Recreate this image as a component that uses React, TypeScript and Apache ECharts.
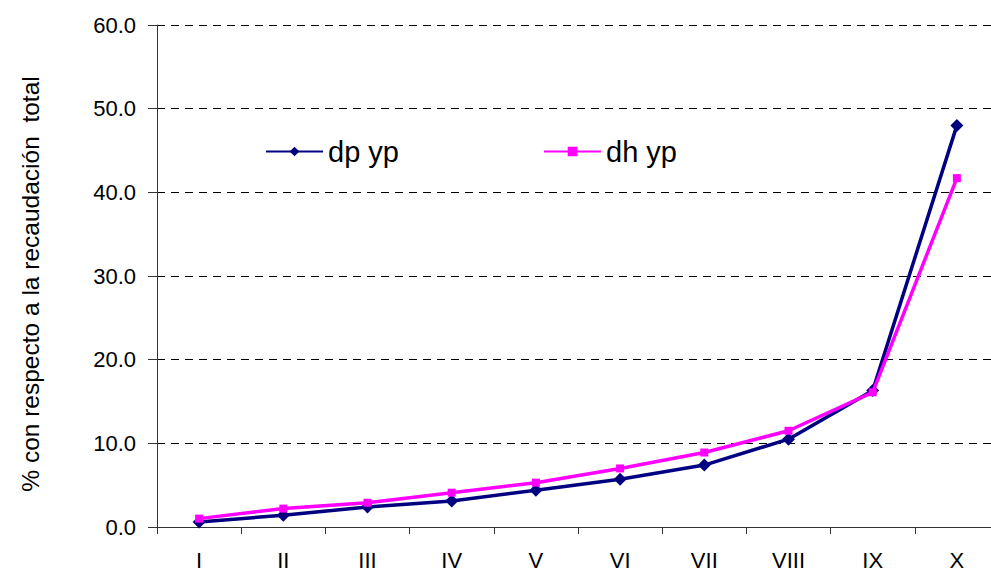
import React, { useEffect, useRef } from "react";
import * as echarts from "echarts";

const categories = ["I", "II", "III", "IV", "V", "VI", "VII", "VIII", "IX", "X"];
const dpYp = [0.6, 1.4, 2.4, 3.1, 4.4, 5.7, 7.4, 10.5, 16.3, 48.0];
const dhYp = [1.0, 2.2, 2.9, 4.1, 5.3, 7.0, 8.9, 11.5, 16.1, 41.7];
const seriesNames = ["dp yp", "dh yp"];
const yAxisTitle = "% con respecto a la recaudación  total";

export default function App() {
  const ref = useRef<HTMLDivElement>(null);
  useEffect(() => {
    if (!ref.current) return;
    document.body.style.overflow = "hidden";
    document.documentElement.style.overflow = "hidden";
    const chart = echarts.init(ref.current, null, { renderer: "svg" });
    const font = "Liberation Sans, Arial, sans-serif";
    chart.setOption({
      animation: false,
      backgroundColor: "#ffffff",
      grid: { left: 157, right: 1, top: 25, bottom: 44, containLabel: false },
      legend: [
        {
          data: [seriesNames[0]],
          left: 265,
          top: 137,
          padding: 0,
          itemWidth: 57,
          itemHeight: 12,
          itemGap: 8,
          textStyle: { fontFamily: font, fontSize: 29, color: "#000" },
        },
        {
          data: [seriesNames[1]],
          left: 543,
          top: 137,
          padding: 0,
          itemWidth: 57,
          itemHeight: 12,
          textStyle: { fontFamily: font, fontSize: 29, color: "#000" },
        },
      ],
      graphic: [
        {
          type: "text",
          x: 30,
          y: 284,
          rotation: Math.PI / 2,
          style: {
            text: yAxisTitle,
            fontFamily: font,
            fontSize: 24.5,
            fill: "#000",
            align: "center",
            verticalAlign: "middle",
          },
        },
      ],
      xAxis: {
        type: "category",
        data: categories,
        boundaryGap: true,
        axisLine: { lineStyle: { color: "#333", width: 1 } },
        axisTick: { show: true, length: 7, lineStyle: { color: "#333" } },
        axisLabel: { fontFamily: font, fontSize: 22, color: "#000", margin: 22 },
        splitLine: { show: false },
      },
      yAxis: {
        type: "value",
        min: 0,
        max: 60,
        interval: 10,
        axisLine: { show: true, lineStyle: { color: "#333", width: 1 } },
        axisTick: { show: true, length: 9, lineStyle: { color: "#333" } },
        axisLabel: {
          fontFamily: font,
          fontSize: 22,
          color: "#000",
          margin: 21,
          formatter: (v: number) => v.toFixed(1),
        },
        splitLine: { show: true, lineStyle: { color: "#000", type: [8, 6], width: 1 } },
      },
      series: [
        {
          name: seriesNames[0],
          type: "line",
          data: dpYp,
          color: "#000080",
          symbol: "diamond",
          symbolSize: 13,
          lineStyle: { width: 3.5, color: "#000080" },
          itemStyle: { color: "#000080" },
          z: 2,
        },
        {
          name: seriesNames[1],
          type: "line",
          data: dhYp,
          color: "#ff00ff",
          symbol: "rect",
          symbolSize: 8,
          lineStyle: { width: 3.5, color: "#ff00ff" },
          itemStyle: { color: "#ff00ff" },
          z: 3,
        },
      ],
    });
    return () => chart.dispose();
  }, []);
  return <div ref={ref} style={{ width: 1000, height: 571, position: "absolute", left: 0, top: 0 }} />;
}
